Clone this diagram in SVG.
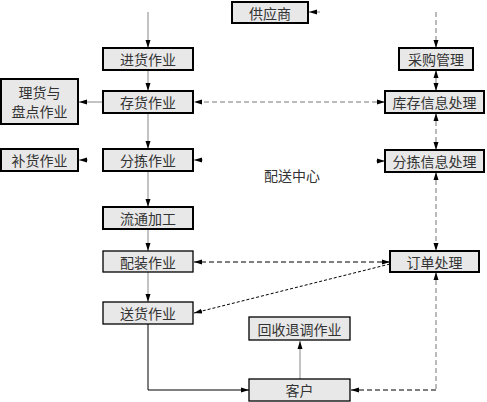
<svg xmlns="http://www.w3.org/2000/svg" width="487" height="402" viewBox="0 0 487 402">
<defs>
<marker id="ah" viewBox="0 0 8 6" markerWidth="8" markerHeight="6" refX="8" refY="3" orient="auto-start-reverse" markerUnits="userSpaceOnUse">
<path d="M0,0.5 L8,3 L0,5.5 z" fill="#000"/>
</marker>
</defs>
<style>
.box{fill:#e8e8e8;stroke:#000;stroke-width:2}
.thin{fill:#e8e8e8;stroke:#000;stroke-width:1.3}
.t{font-family:"Noto Sans CJK SC","Noto Sans CJK TC",sans-serif;font-size:14px;fill:#333;text-anchor:middle;dominant-baseline:central}
.s{fill:none;stroke:#888;stroke-width:1}
.sk{fill:none;stroke:#000;stroke-width:1}
.d{fill:none;stroke:#777;stroke-width:1;stroke-dasharray:5,3}
.dk{fill:none;stroke:#000;stroke-width:1.2;stroke-dasharray:5,3}
.dt{fill:none;stroke:#000;stroke-width:1;stroke-dasharray:3,2}
</style>
<rect width="487" height="402" fill="#fff"/>
<g id="connectors">
<path class="s" d="M148,12 V48" marker-end="url(#ah)"/>
<path class="s" d="M148,70 V91" marker-end="url(#ah)"/>
<path class="s" d="M148,113 V149" marker-end="url(#ah)"/>
<path class="s" d="M148,171 V207" marker-end="url(#ah)"/>
<path class="s" d="M148,229 V251" marker-end="url(#ah)"/>
<path class="s" d="M148,272 V302" marker-end="url(#ah)"/>
<path class="sk" d="M148,324 V390 H249" marker-end="url(#ah)"/>
<path class="s" d="M103,102 H79" marker-end="url(#ah)"/>
<path class="s" d="M88,160 H79" marker-end="url(#ah)"/>
<path class="s" d="M203,160 H194" marker-end="url(#ah)"/>
<path class="s" d="M320,12 H309" marker-end="url(#ah)"/>
<path class="s" d="M376,161 H385" marker-end="url(#ah)"/>
<path class="d" d="M385,102 H194" marker-start="url(#ah)" marker-end="url(#ah)"/>
<path class="d" d="M436,12 V48" marker-end="url(#ah)"/>
<path class="d" d="M436,70 V91" marker-start="url(#ah)" marker-end="url(#ah)"/>
<path class="d" d="M436,113 V150" marker-start="url(#ah)" marker-end="url(#ah)"/>
<path class="d" d="M436,172 V251" marker-start="url(#ah)" marker-end="url(#ah)"/>
<path class="d" d="M436,272 V390" marker-start="url(#ah)"/>
<path class="dk" d="M436,390 H351" marker-end="url(#ah)"/>
<path class="dk" d="M390,262 H194" marker-start="url(#ah)" marker-end="url(#ah)"/>
<path class="dt" d="M390,264 L194,313" marker-end="url(#ah)"/>
<path class="s" d="M300,379 V341" marker-end="url(#ah)"/>
</g>
<g id="n-supplier"><rect class="box" x="232" y="2" width="76" height="21"/><text class="t" x="270" y="12.5">供应商</text></g>
<g id="n-jinhuo"><rect class="box" x="103" y="48" width="90" height="22"/><text class="t" x="148" y="59">进货作业</text></g>
<g id="n-cunhuo"><rect class="box" x="103" y="91" width="90" height="22"/><text class="t" x="148" y="102">存货作业</text></g>
<g id="n-fenjian"><rect class="box" x="103" y="149" width="90" height="22"/><text class="t" x="148" y="160">分拣作业</text></g>
<g id="n-liutong"><rect class="box" x="103" y="207" width="90" height="22"/><text class="t" x="148" y="218">流通加工</text></g>
<g id="n-peizhuang"><rect class="thin" x="103" y="251" width="90" height="21"/><text class="t" x="148" y="261.5">配装作业</text></g>
<g id="n-songhuo"><rect class="thin" x="103" y="302" width="90" height="22"/><text class="t" x="148" y="313">送货作业</text></g>
<g id="n-lihuo"><rect class="box" x="1" y="79" width="77" height="45"/><text class="t" x="39.5" y="92">理货与</text><text class="t" x="39.5" y="111">盘点作业</text></g>
<g id="n-buhuo"><rect class="box" x="1" y="149" width="77" height="22"/><text class="t" x="39.5" y="160">补货作业</text></g>
<g id="n-caigou"><rect class="box" x="399" y="48" width="74" height="22"/><text class="t" x="436" y="59">采购管理</text></g>
<g id="n-kucun"><rect class="box" x="385" y="91" width="99" height="22"/><text class="t" x="434.5" y="102">库存信息处理</text></g>
<g id="n-fjinfo"><rect class="box" x="385" y="150" width="99" height="22"/><text class="t" x="434.5" y="161">分拣信息处理</text></g>
<g id="n-dingdan"><rect class="box" x="390" y="251" width="89" height="21"/><text class="t" x="434.5" y="261.5">订单处理</text></g>
<g id="n-huishou"><rect class="thin" x="249" y="317" width="101" height="23"/><text class="t" x="299.5" y="328.5">回收退调作业</text></g>
<g id="n-kehu"><rect class="thin" x="249" y="379" width="101" height="22"/><text class="t" x="299.5" y="390">客户</text></g>
<g id="label"><text class="t" x="292" y="175">配送中心</text></g>
</svg>
